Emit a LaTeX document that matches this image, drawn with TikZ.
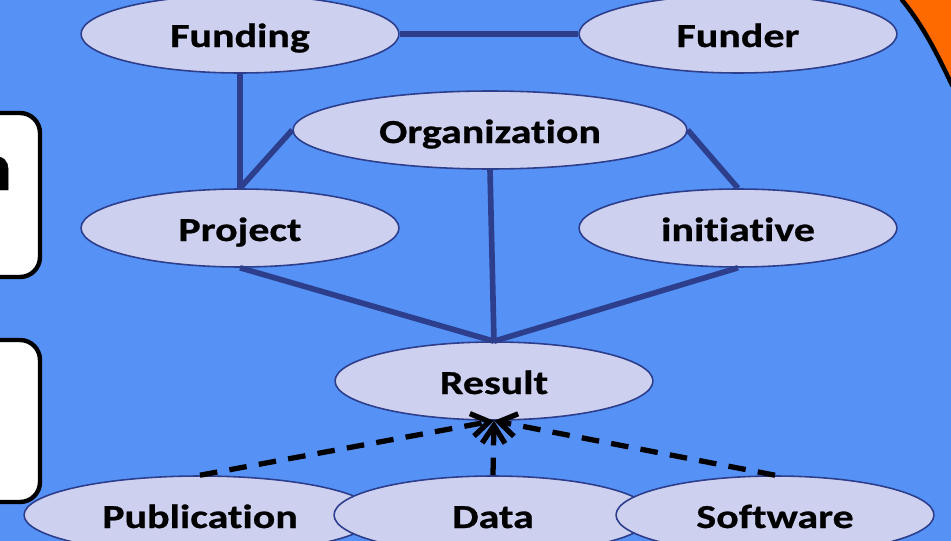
\documentclass[tikz,border=0pt]{standalone}
\usepackage{fontspec}
\newfontfamily\lblfont{Carlito}[FakeStretch=1.25,FakeBold=0.7,Ligatures=NoCommon]
\usetikzlibrary{shapes.geometric,arrows.meta}
\definecolor{bgblue}{HTML}{5692F5}
\definecolor{entfill}{HTML}{CDD0EE}
\definecolor{navy}{HTML}{2C3E8C}
\definecolor{corner}{HTML}{FF6A00}
\begin{document}
\begin{tikzpicture}[x=0.02cm,y=-0.02cm,line join=round,>={Straight Barb[length=10pt,width=13pt]}]
\tikzset{ent/.style={ellipse,draw=navy,line width=0.9pt,fill=entfill,inner sep=0pt,minimum width=6.36cm,minimum height=1.56cm,text height=16pt,text depth=1.2pt,font=\lblfont\bfseries\fontsize{19.1}{23}\selectfont},
  link/.style={navy,line width=3.2pt},
  deriv/.style={black,line width=3pt,dash pattern=on 10pt off 7pt,->},
  panel/.style={draw=black,fill=white,line width=2.5pt,rounded corners=0.4cm}}
\useasboundingbox (0,0) rectangle (951,541);
\clip (0,0) rectangle (951,541);
\fill[bgblue] (0,0) rectangle (951,541);
\filldraw[fill=corner,draw=black,line width=2.5pt] (902,-10)--(902,0) .. controls (922.6,25) and (937.1,53.7) .. (951,83)--(960,100)--(960,-10)--cycle;
% side panels
\draw[panel] (-40,113) rectangle (40,277);
\node[anchor=base east,inner sep=0pt,font=\lblfont\bfseries\fontsize{39}{44}\selectfont] (ptxt) at (13,190) {n};
\draw[panel] (-40,340) rectangle (40,502);
% entities
\node[ent] (fund) at (240,34) {Funding};
\node[ent] (funder) at (738,34) {Funder};
\node[ent,minimum width=7.88cm] (org) at (490,130) {Organization};
\node[ent] (proj) at (240,228) {Project};
\node[ent] (init) at (738,228) {initiative};
\node[ent] (res) at (494,381) {Result};
\node[ent,minimum width=7.04cm] (pub) at (200,515) {Publication};
\node[ent] (data) at (493,515) {Data};
\node[ent] (soft) at (775,515) {Software};
% links
\draw[link] (fund)--(funder);
\draw[link] (fund)--(proj);
\draw[link] (org.west)--(proj.north);
\draw[link] (org.east)--(init.north);
\foreach \s in {org,proj,init} \draw[link] (\s.south)--(res.north);
\foreach \s in {pub,data,soft} \draw[deriv] (\s.north)--(res.south);
\end{tikzpicture}
\end{document}
